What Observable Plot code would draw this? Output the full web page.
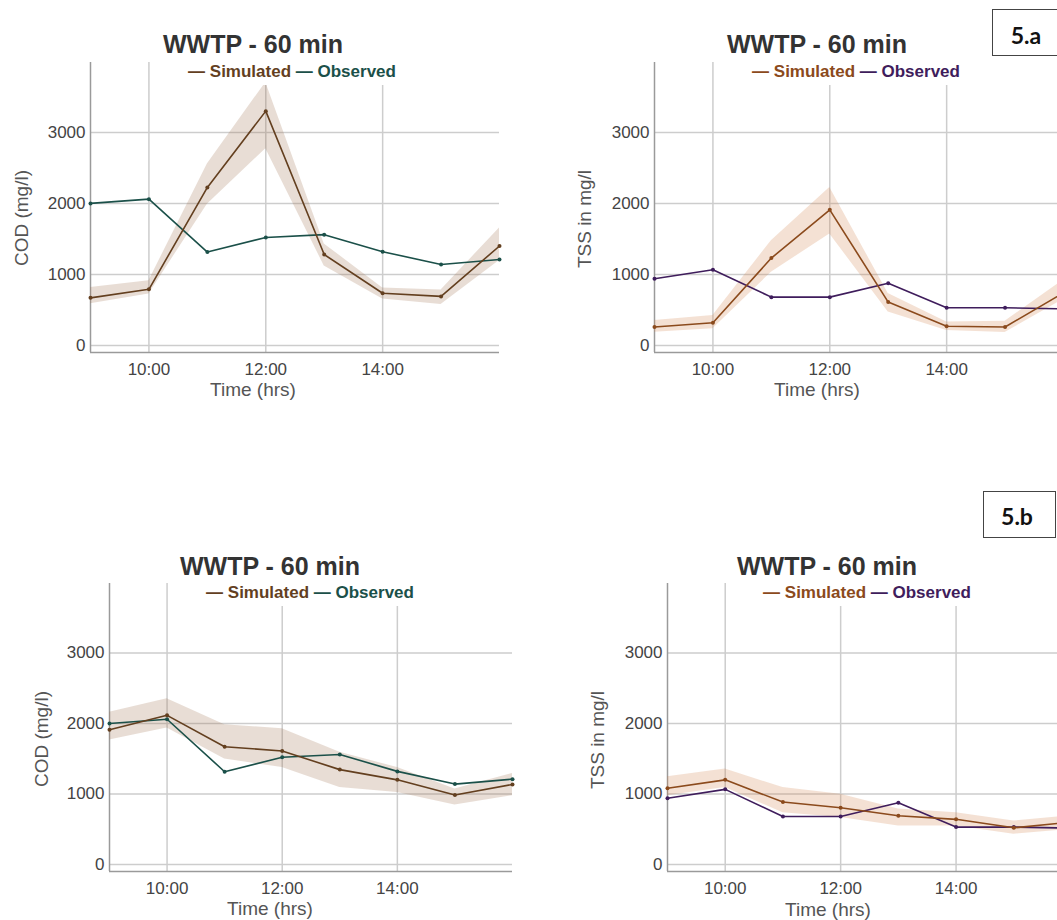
<!DOCTYPE html>
<html>
<head>
<meta charset="utf-8">
<script src="https://cdn.jsdelivr.net/npm/d3@7"></script>
<script src="https://cdn.jsdelivr.net/npm/@observablehq/plot@0.6"></script>
<style>
  html, body { margin: 0; padding: 0; background: #fff; overflow: hidden; }
  #root { position: relative; width: 1057px; height: 920px; overflow: hidden; background: #fff; }
  .abs { position: absolute; transform: translate(-50%, -50%); white-space: nowrap; }
  .title { font: 700 25px "Liberation Sans", Arial, sans-serif; color: #333; }
  .legend { font: 700 17px "Liberation Sans", Arial, sans-serif; background: #fff; padding: 3px 4px; }
  .xlab { font: 400 19px "Liberation Sans", Arial, sans-serif; color: #555; }
  .ylab { font: 400 19px "Liberation Sans", Arial, sans-serif; color: #555; transform: translate(-50%, -50%) rotate(-90deg); }
  .box { position: absolute; border: 1.3px solid #444; background: #fff; }
  .boxlab { font: 700 23px Lato, "Open Sans", sans-serif; color: #111; }
  svg { position: absolute; overflow: visible; }
</style>
</head>
<body>
<div id="root"></div>
<script>
// ---------- data ----------
const hours = [9, 10, 11, 12, 13, 14, 15, 16];
const xTicks = [10, 12, 14];
const yTicks = [0, 1000, 2000, 3000];
const title = "WWTP - 60 min";
const xLabel = "Time (hrs)";
const codLabel = "COD (mg/l)";
const tssLabel = "TSS in mg/l";
const seriesNames = ["Simulated", "Observed"];
const panelTags = ["5.a", "5.b"];

// 5.a COD
const codSimA   = [670, 790, 2225, 3300, 1280, 735, 690, 1400];
const codSimALo = [585, 725, 1990, 2770, 1120, 655, 575, 1195];
const codSimAHi = [815, 910, 2555, 3705, 1430, 810, 780, 1655];
// 5.a TSS
const tssSimA   = [260, 320, 1230, 1910, 610, 270, 260, 740];
const tssSimALo = [185, 235, 1030, 1570, 470, 210, 180, 650];
const tssSimAHi = [350, 420, 1475, 2225, 730, 330, 340, 920];
// 5.b COD
const codSimB   = [1910, 2115, 1670, 1610, 1345, 1200, 985, 1135];
const codSimBLo = [1765, 1935, 1495, 1375, 1090, 1020, 845, 975];
const codSimBHi = [2160, 2350, 1980, 1925, 1590, 1375, 1070, 1290];
// 5.b TSS
const tssSimB   = [1080, 1200, 885, 805, 690, 640, 520, 600];
const tssSimBLo = [975, 1090, 735, 665, 545, 545, 430, 500];
const tssSimBHi = [1245, 1355, 1090, 995, 785, 735, 615, 690];
// Observed
const codObs = [2000, 2060, 1315, 1520, 1560, 1320, 1140, 1210];
const tssObs = [940, 1065, 680, 680, 875, 530, 530, 515];

// ---------- styles ----------
const codColors = { sim: "#633f1f", obs: "#1b5049", band: "#a0704f", bandOpacity: 0.24 };
const tssColors = { sim: "#8b4a1c", obs: "#3f1d5c", band: "#d2834a", bandOpacity: 0.24 };
const yDomain = [-100, 3985];

const root = document.getElementById("root");

function addDiv(cls, x, y, html) {
  const d = document.createElement("div");
  d.className = "abs " + cls;
  d.style.left = x + "px";
  d.style.top = y + "px";
  d.innerHTML = html;
  root.appendChild(d);
  return d;
}

function panel(p) {
  const ml = 60, mt = 6, mr = 6, mb = 34;
  const w = p.right - p.left + ml + mr;
  const h = p.bottom - p.top + mt + mb;
  const rows = hours.map((t, i) => ({ t, sim: p.sim[i], lo: p.lo[i], hi: p.hi[i], obs: p.obs[i] }));
  const c = p.colors;
  const svg = Plot.plot({
    width: w, height: h,
    marginLeft: ml, marginRight: mr, marginTop: mt, marginBottom: mb,
    style: { fontFamily: "'Liberation Sans', Arial, sans-serif", fontSize: "17px", color: "#444", background: "transparent", overflow: "visible" },
    x: { domain: [hours[0], hours[hours.length - 1]], ticks: xTicks, tickFormat: d => `${d}:00`, tickSize: 0, tickPadding: 10, label: null },
    y: { domain: yDomain, ticks: yTicks, tickFormat: d => String(d), tickSize: 0, tickPadding: 5, label: null },
    marks: [
      Plot.ruleX(xTicks, { stroke: "#cdcdcd", strokeWidth: 1.5 }),
      Plot.ruleY(yTicks, { stroke: "#cdcdcd", strokeWidth: 1.5 }),
      Plot.ruleX([hours[0]], { stroke: "#9a9a9a", strokeWidth: 1.5 }),
      Plot.ruleY([yDomain[0]], { stroke: "#9a9a9a", strokeWidth: 1.5 }),
      Plot.areaY(rows, { x: "t", y1: "lo", y2: "hi", fill: c.band, fillOpacity: c.bandOpacity }),
      Plot.line(rows, { x: "t", y: "obs", stroke: c.obs, strokeWidth: 1.6 }),
      Plot.dot(rows, { x: "t", y: "obs", r: 2, fill: c.obs }),
      Plot.line(rows, { x: "t", y: "sim", stroke: c.sim, strokeWidth: 1.6 }),
      Plot.dot(rows, { x: "t", y: "sim", r: 2, fill: c.sim })
    ]
  });
  svg.style.left = (p.left - ml) + "px";
  svg.style.top = (p.top - mt) + "px";
  root.appendChild(svg);

  addDiv("title", p.titleX, p.titleY, title);
  addDiv("legend", p.legX, p.legY,
    `<span style="color:${c.sim}">— ${seriesNames[0]}</span> <span style="color:${c.obs}">— ${seriesNames[1]}</span>`);
  addDiv("xlab", p.xlabX, p.xlabY, xLabel);
  addDiv("ylab", p.ylabX, p.ylabY, p.yLabel);
}

panel({ left: 90, right: 499, top: 62, bottom: 352, sim: codSimA, lo: codSimALo, hi: codSimAHi, obs: codObs, colors: codColors,
  titleX: 253, titleY: 44, legX: 292, legY: 72, xlabX: 253, xlabY: 390, ylabX: 22, ylabY: 218, yLabel: codLabel });
panel({ left: 654, right: 1063, top: 62, bottom: 352, sim: tssSimA, lo: tssSimALo, hi: tssSimAHi, obs: tssObs, colors: tssColors,
  titleX: 817, titleY: 44, legX: 856, legY: 72, xlabX: 817, xlabY: 390, ylabX: 585, ylabY: 219, yLabel: tssLabel });
panel({ left: 109, right: 512, top: 583, bottom: 871, sim: codSimB, lo: codSimBLo, hi: codSimBHi, obs: codObs, colors: codColors,
  titleX: 270, titleY: 566, legX: 310, legY: 593, xlabX: 270, xlabY: 909, ylabX: 42, ylabY: 739, yLabel: codLabel });
panel({ left: 667, right: 1071, top: 583, bottom: 871, sim: tssSimB, lo: tssSimBLo, hi: tssSimBHi, obs: tssObs, colors: tssColors,
  titleX: 827, titleY: 566, legX: 867, legY: 593, xlabX: 828, xlabY: 910, ylabX: 598, ylabY: 740, yLabel: tssLabel });

// panel tags
function tag(x, y, w, h, tx, ty, text) {
  const b = document.createElement("div");
  b.className = "box";
  b.style.left = x + "px"; b.style.top = y + "px";
  b.style.width = w + "px"; b.style.height = h + "px";
  root.appendChild(b);
  addDiv("boxlab", tx, ty, text);
}
tag(992, 9, 64, 45, 1026, 35, panelTags[0]);
tag(983, 491, 71, 45, 1017, 516, panelTags[1]);
</script>
</body>
</html>
